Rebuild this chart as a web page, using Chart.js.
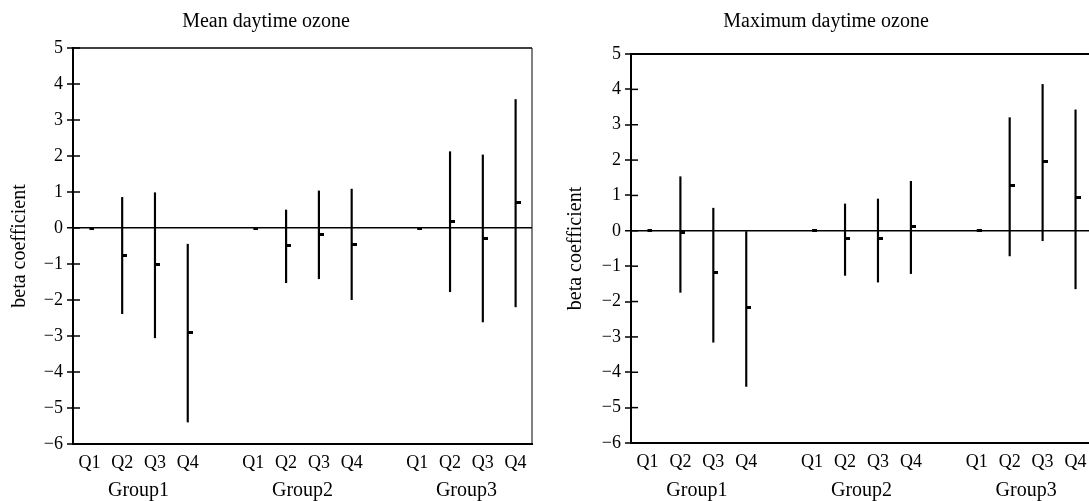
<!DOCTYPE html>
<html>
<head>
<meta charset="utf-8">
<title>Ozone beta coefficients</title>
<script src="https://cdn.jsdelivr.net/npm/chart.js@4.4.1/dist/chart.umd.min.js"></script>
<style>
  html, body { margin: 0; padding: 0; background: #fff; overflow: hidden; }
  #wrap { position: relative; width: 1089px; height: 501px; overflow: hidden; }
  #meanChart { position: absolute; left: 0; top: 0; }
  #maxChart { position: absolute; left: 560px; top: 0; }
</style>
</head>
<body>
<div id="wrap">
  <canvas id="meanChart" width="545" height="501"></canvas>
  <canvas id="maxChart" width="542" height="501"></canvas>
</div>
<script>
// categories (blank slot between groups)
const quartiles = ['Q1', 'Q2', 'Q3', 'Q4', '', 'Q1', 'Q2', 'Q3', 'Q4', '', 'Q1', 'Q2', 'Q3', 'Q4'];
const groupNames = ['Group1', 'Group2', 'Group3'];

// mean daytime ozone
const meanEst  = [0, -0.75, -1.00, -2.89, null, 0, -0.49, -0.18, -0.45, null, 0, 0.18, -0.29, 0.72];
const meanLow  = [null, -2.38, -3.05, -5.39, null, null, -1.52, -1.41, -1.99, null, null, -1.77, -2.61, -2.19];
const meanHigh = [null, 0.85, 0.98, -0.45, null, null, 0.50, 1.03, 1.08, null, null, 2.12, 2.03, 3.57];

// maximum daytime ozone
const maxEst  = [0, -0.05, -1.18, -2.16, null, 0, -0.23, -0.23, 0.12, null, 0, 1.27, 1.96, 0.94];
const maxLow  = [null, -1.74, -3.15, -4.40, null, null, -1.26, -1.45, -1.21, null, null, -0.71, -0.28, -1.64];
const maxHigh = [null, 1.53, 0.64, 0.00, null, null, 0.76, 0.90, 1.40, null, null, 3.20, 4.14, 3.42];

const yTicks = { min: -6, max: 5, step: 1 };

const FONT = '"Liberation Serif", "Times New Roman", serif';
Chart.defaults.font.family = FONT;
Chart.defaults.color = '#000';

// small dash drawn just right of the point
function makeDash() {
  const c = document.createElement('canvas');
  c.width = 10;
  c.height = 3;
  const g = c.getContext('2d');
  g.fillStyle = '#000';
  g.fillRect(5, 0, 5, 3);
  return c;
}
const dash = makeDash();

// box + inner tick marks
const frame = {
  id: 'frame',
  afterDraw(chart, args, opts) {
    const a = chart.chartArea;
    const ctx = chart.ctx;
    const y = chart.scales.y;
    ctx.save();
    ctx.strokeStyle = '#000';
    ctx.lineWidth = opts.topWidth;
    ctx.beginPath();
    ctx.moveTo(a.left, a.top);
    ctx.lineTo(a.right, a.top);
    ctx.stroke();
    ctx.lineWidth = 1;
    ctx.beginPath();
    ctx.moveTo(a.right, a.top);
    ctx.lineTo(a.right, a.bottom);
    ctx.stroke();
    ctx.lineWidth = 1.5;
    y.ticks.forEach((t, i) => {
      const py = y.getPixelForTick(i);
      ctx.beginPath();
      ctx.moveTo(a.left, py);
      ctx.lineTo(a.left + 7, py);
      ctx.stroke();
    });
    ctx.restore();
  }
};

// group names under the quartile labels
const groupLabels = {
  id: 'groupLabels',
  afterDraw(chart) {
    const x = chart.scales.x;
    const ctx = chart.ctx;
    const starts = quartiles.map((q, i) => q === 'Q1' ? i : -1).filter(i => i >= 0);
    ctx.save();
    ctx.font = '20px ' + FONT;
    ctx.fillStyle = '#000';
    ctx.textAlign = 'center';
    ctx.textBaseline = 'middle';
    starts.forEach((s, i) => {
      const mid = (x.getPixelForValue(s) + x.getPixelForValue(s + 3)) / 2;
      ctx.fillText(groupNames[i], mid, chart.height - 10);
    });
    ctx.restore();
  }
};

function renderChart(id, title, est, low, high, cfg) {
  const ci = low.map((l, i) => (l === null ? null : [l, high[i]]));
  return new Chart(document.getElementById(id), {
    type: 'bar',
    data: {
      labels: quartiles,
      datasets: [
        {
          type: 'line',
          label: 'estimate',
          data: est,
          showLine: false,
          pointStyle: dash,
          pointRadius: 3
        },
        {
          label: '95% CI',
          data: ci,
          backgroundColor: '#000',
          borderWidth: 0,
          barThickness: 1.5
        }
      ]
    },
    options: {
      responsive: false,
      animation: false,
      events: [],
      layout: { padding: { left: 0, right: cfg.padRight, top: 0, bottom: 0 } },
      plugins: {
        legend: { display: false },
        tooltip: { enabled: false },
        title: {
          display: true,
          text: title,
          font: { size: 20, weight: 'normal', family: FONT },
          color: '#000',
          padding: { top: 10, bottom: cfg.titleBottom }
        },
        frame: { topWidth: cfg.topWidth }
      },
      scales: {
        x: {
          offset: true,
          grid: { display: false },
          border: { display: true, color: '#000', width: 2 },
          ticks: { autoSkip: false, maxRotation: 0, padding: 0, font: { size: 18 } },
          afterFit: s => { s.height = cfg.xHeight; }
        },
        y: {
          min: yTicks.min,
          max: yTicks.max,
          border: { display: true, color: '#000', width: 2 },
          grid: {
            drawOnChartArea: true,
            drawTicks: true,
            tickLength: 6,
            tickColor: '#000',
            tickWidth: 1.5,
            color: c => (c.tick && c.tick.value === 0 ? '#000' : 'rgba(0,0,0,0)'),
            lineWidth: c => (c.tick && c.tick.value === 0 ? 1.5 : 0)
          },
          ticks: {
            stepSize: yTicks.step,
            padding: 4,
            font: { size: 18 },
            callback: v => (v < 0 ? '\u2212' + Math.abs(v) : String(v))
          },
          title: {
            display: true,
            text: 'beta coefficient',
            font: { size: 20 },
            padding: { top: cfg.yTitlePad, bottom: 0 }
          },
          afterFit: s => { s.width = cfg.yWidth; }
        }
      }
    },
    plugins: [frame, groupLabels]
  });
}

window.onload = function() {
  renderChart('meanChart', 'Mean daytime ozone', meanEst, meanLow, meanHigh,
    { padRight: 13, titleBottom: 14, xHeight: 57, yWidth: 73, yTitlePad: 8, topWidth: 1.5 });
  renderChart('maxChart', 'Maximum daytime ozone', maxEst, maxLow, maxHigh,
    { padRight: 10, titleBottom: 20, xHeight: 58, yWidth: 71, yTitlePad: 4, topWidth: 2 });
};
</script>
</body>
</html>
